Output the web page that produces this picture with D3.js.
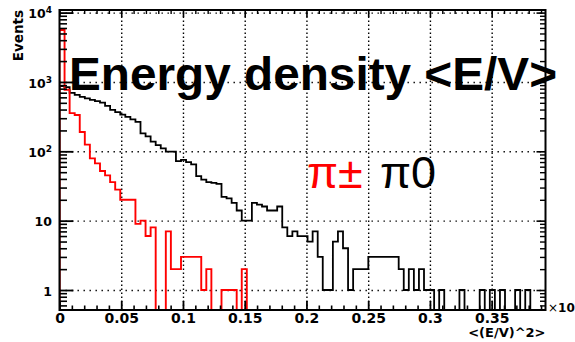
<!DOCTYPE html>
<html>
<head>
<meta charset="utf-8">
<script src="https://cdn.jsdelivr.net/npm/d3@7"></script>
<style>
  html, body { margin: 0; padding: 0; background: #fff; }
  svg { display: block; }
</style>
</head>
<body>
<svg id="chart" width="575" height="342"></svg>
<script>
// Histogram binning of <(E/V)^2>
const binWidth = 0.0041;
const xMax = 0.3936;
const yMin = 0.515;
const yMax = 10900;

// Axis ticks
const xTickValues = [0, 0.05, 0.1, 0.15, 0.2, 0.25, 0.3, 0.35];
const xTickLabels = ["0", "0.05", "0.1", "0.15", "0.2", "0.25", "0.3", "0.35"];
const yDecades = [1, 10, 100, 1000, 10000];
const yTickBase = ["1", "10", "10", "10", "10"];
const yTickExp = ["", "", "2", "3", "4"];

// Events per bin, charged pions (pi+-)
const chargedCounts = [
  5600, 770, 355, 333, 190, 125, 79, 67, 52, 45,
  36, 28, 20, 20, 20, 9, 10, 6, 8, 0,
  0, 7, 2, 2, 3, 3, 3, 3, 1, 2,
  0, 0, 1, 1, 1, 0, 2, 0, 0, 0,
  0, 0, 0, 0, 0, 0, 0, 0, 0, 0,
  0, 0, 0, 0, 0, 0, 0, 0, 0, 0,
  0, 0, 0, 0, 0, 0, 0, 0, 0, 0,
  0, 0, 0, 0, 0, 0, 0, 0, 0, 0,
  0, 0, 0, 0, 0, 0, 0, 0, 0, 0,
  0, 0, 0, 0, 0, 0
];

// Events per bin, neutral pions (pi0)
const neutralCounts = [
  870, 840, 694, 650, 608, 578, 550, 530, 505, 451,
  395, 368, 339, 313, 288, 265, 181, 164, 138, 123,
  110, 99, 99, 72, 75, 70, 65, 44, 39, 36,
  35, 34, 22, 21, 18, 14, 10, 10, 18, 17,
  16, 14, 14, 16, 8, 6, 7, 6, 6, 5,
  7, 3, 1, 1, 5, 7, 4, 1, 2, 2,
  2, 3, 3, 3, 3, 3, 3, 2, 1, 2,
  1, 2, 1, 1, 0, 1, 0, 0, 0, 1,
  0, 0, 0, 1, 0, 1, 0, 1, 0, 0,
  1, 0, 1, 0, 0, 0
];

const frame = { left: 59.5, right: 545.5, top: 10, bottom: 310 };
const svg = d3.select("#chart");

const x = d3.scaleLinear().domain([0, xMax]).range([frame.left, frame.right]);
const y = d3.scaleLog().domain([yMin, yMax]).range([frame.bottom, frame.top]);

const frameW = frame.right - frame.left;
const frameH = frame.bottom - frame.top;

// minor tick positions
const xMinor = d3.range(1, 40).map(i => +(i * 0.01).toFixed(2))
  .filter(v => v <= xMax && Math.abs(v / 0.05 - Math.round(v / 0.05)) > 1e-6);
const yMinor = [];
[0.1, 1, 10, 100, 1000].forEach(d => {
  for (let m = 2; m <= 9; m++) {
    const v = d * m;
    if (v >= yMin && v <= yMax) yMinor.push(v);
  }
});

// ---- dotted grid ----
const gridV = svg.append("g").attr("transform", `translate(0,${frame.bottom})`)
  .call(d3.axisBottom(x).tickValues(xTickValues.slice(1)).tickSize(-frameH).tickFormat(""));
gridV.select(".domain").remove();
gridV.selectAll("line").attr("stroke", "#000").attr("stroke-width", 1.4)
  .attr("stroke-dasharray", "1.4,2.6");

const gridH = svg.append("g").attr("transform", `translate(${frame.left},0)`)
  .call(d3.axisLeft(y).tickValues(yDecades).tickSize(-frameW).tickFormat(""));
gridH.select(".domain").remove();
gridH.selectAll("line").attr("stroke", "#000").attr("stroke-width", 1.4)
  .attr("stroke-dasharray", "1.4,4.6");

// ---- histograms ----
svg.append("clipPath").attr("id", "frameClip")
  .append("rect").attr("x", frame.left).attr("y", frame.top)
  .attr("width", frameW).attr("height", frameH);

function outline(counts) {
  const base = frame.bottom + 2;
  const pts = [[x(0), base]];
  counts.forEach((c, i) => {
    const yy = c > 0 ? y(c) : base;
    pts.push([x(i * binWidth), yy], [x((i + 1) * binWidth), yy]);
  });
  pts.push([x(counts.length * binWidth), base]);
  return d3.line()(pts);
}

const hists = svg.append("g").attr("clip-path", "url(#frameClip)");
hists.append("path").attr("d", outline(neutralCounts))
  .attr("fill", "none").attr("stroke", "#000").attr("stroke-width", 1.8)
  .attr("stroke-linejoin", "miter");
hists.append("path").attr("d", outline(chargedCounts))
  .attr("fill", "none").attr("stroke", "#ff0000").attr("stroke-width", 1.9)
  .attr("stroke-linejoin", "miter");

// ---- axes ----
function styleTicks(g, w) {
  g.select(".domain").remove();
  g.selectAll("line").attr("stroke", "#000").attr("stroke-width", w);
}

// bottom
const xAxisB = svg.append("g").attr("transform", `translate(0,${frame.bottom})`)
  .call(d3.axisBottom(x).tickValues(xTickValues).tickSize(-9).tickPadding(3)
    .tickFormat((d, i) => xTickLabels[i]));
styleTicks(xAxisB, 1.8);
xAxisB.selectAll("text")
  .attr("font-family", "'DejaVu Sans', sans-serif").attr("font-weight", "bold")
  .attr("font-size", "14px").attr("fill", "#000");
const xAxisBm = svg.append("g").attr("transform", `translate(0,${frame.bottom})`)
  .call(d3.axisBottom(x).tickValues(xMinor).tickSize(-4.5).tickFormat(""));
styleTicks(xAxisBm, 1.6);

// top
const xAxisT = svg.append("g").attr("transform", `translate(0,${frame.top})`)
  .call(d3.axisTop(x).tickValues(xTickValues).tickSize(-7).tickFormat(""));
styleTicks(xAxisT, 1.6);
const xAxisTm = svg.append("g").attr("transform", `translate(0,${frame.top})`)
  .call(d3.axisTop(x).tickValues(xMinor).tickSize(-4).tickFormat(""));
styleTicks(xAxisTm, 1.4);

// left
const yAxisL = svg.append("g").attr("transform", `translate(${frame.left},0)`)
  .call(d3.axisLeft(y).tickValues(yDecades).tickSize(-14).tickPadding(7.5)
    .tickFormat((d, i) => yTickBase[i]));
styleTicks(yAxisL, 1.8);
yAxisL.selectAll("text")
  .attr("font-family", "'DejaVu Sans', sans-serif").attr("font-weight", "bold")
  .attr("font-size", "12.5px").attr("fill", "#000").attr("dy", "0.42em")
  .each(function (d, i) {
    if (yTickExp[i]) {
      d3.select(this).append("tspan").attr("dy", "-0.55em")
        .attr("font-size", "9px").text(yTickExp[i]);
    }
  });
const yAxisLm = svg.append("g").attr("transform", `translate(${frame.left},0)`)
  .call(d3.axisLeft(y).tickValues(yMinor).tickSize(-7.5).tickFormat(""));
styleTicks(yAxisLm, 1.6);

// right
const yAxisR = svg.append("g").attr("transform", `translate(${frame.right},0)`)
  .call(d3.axisRight(y).tickValues(yDecades).tickSize(-9).tickFormat(""));
styleTicks(yAxisR, 1.6);
const yAxisRm = svg.append("g").attr("transform", `translate(${frame.right},0)`)
  .call(d3.axisRight(y).tickValues(yMinor).tickSize(-5.5).tickFormat(""));
styleTicks(yAxisRm, 1.4);

// frame
svg.append("rect").attr("x", frame.left).attr("y", frame.top)
  .attr("width", frameW).attr("height", frameH)
  .attr("fill", "none").attr("stroke", "#000").attr("stroke-width", 2);

// ---- titles ----
svg.append("text")
  .attr("transform", `translate(23,${frame.top}) rotate(-90)`)
  .attr("text-anchor", "end")
  .attr("font-family", "'DejaVu Sans', sans-serif").attr("font-weight", "bold")
  .attr("font-size", "13.5px").attr("fill", "#000")
  .text("Events");

svg.append("text")
  .attr("x", frame.right).attr("y", 337)
  .attr("text-anchor", "end")
  .attr("font-family", "'DejaVu Sans', sans-serif").attr("font-weight", "bold")
  .attr("font-size", "13px").attr("fill", "#000")
  .text("<(E/V)^2>");

// axis exponent marker at the right end of the x axis
const expo = svg.append("text")
  .attr("x", 548).attr("y", 312)
  .attr("font-family", "'DejaVu Sans', sans-serif")
  .attr("font-size", "12px").attr("fill", "#000");
expo.append("tspan").text("×");
expo.append("tspan").attr("font-weight", "bold").text("10");

svg.append("text")
  .attr("x", 69).attr("y", 90)
  .attr("textLength", 488).attr("lengthAdjust", "spacingAndGlyphs")
  .attr("font-family", "'Liberation Sans', Arial, sans-serif").attr("font-weight", "bold")
  .attr("font-size", "47px").attr("fill", "#000")
  .text("Energy density <E/V>");

svg.append("text")
  .attr("x", 307).attr("y", 188)
  .attr("font-family", "'Liberation Sans', Arial, sans-serif")
  .attr("font-size", "45px").attr("fill", "#ff0000")
  .text("π±");
svg.append("text")
  .attr("x", 380).attr("y", 188)
  .attr("font-family", "'Liberation Sans', Arial, sans-serif")
  .attr("font-size", "45px").attr("fill", "#000")
  .text("π0");
</script>
</body>
</html>
